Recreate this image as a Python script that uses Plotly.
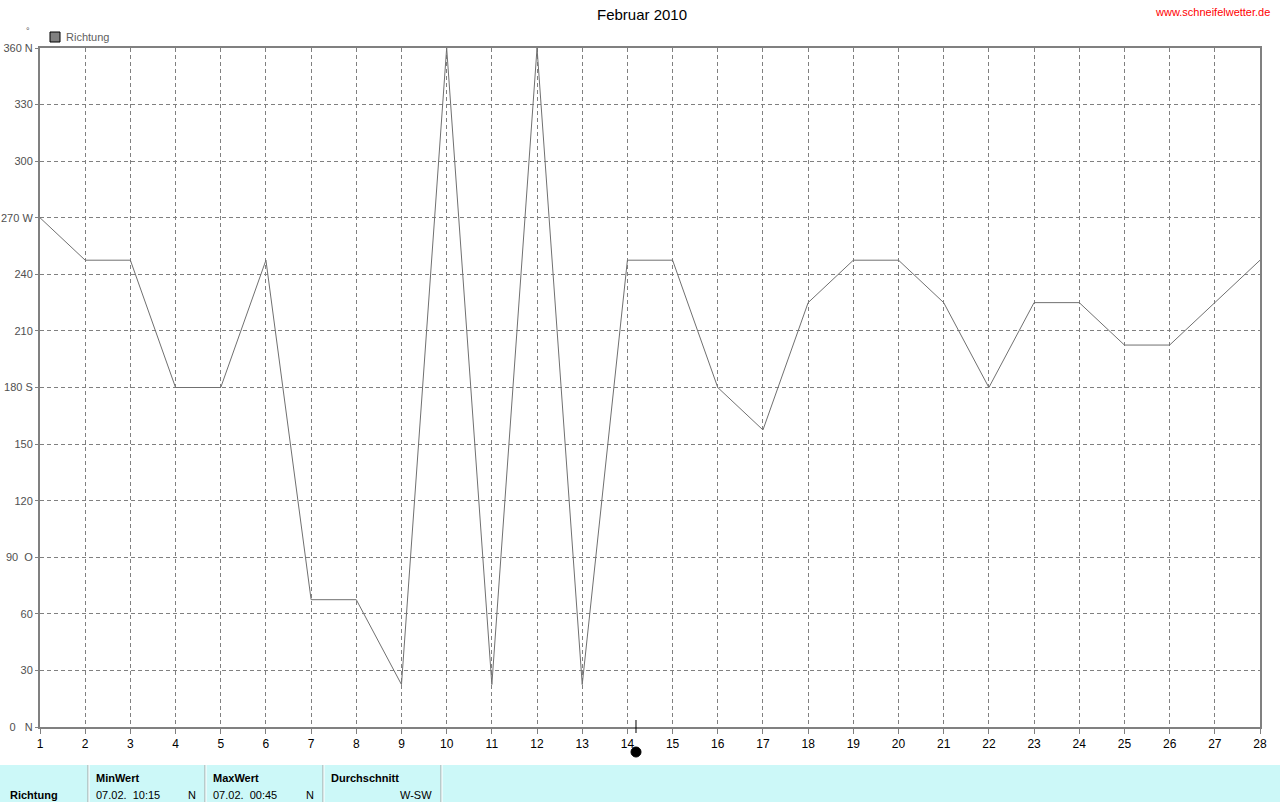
import plotly.graph_objects as go

days = list(range(1, 29))
richtung = [270, 247.5, 247.5, 180, 180, 247.5, 67.5, 67.5, 22.5, 360, 22.5, 360, 22.5,
            247.5, 247.5, 180, 157.5, 225, 247.5, 247.5, 225, 180, 225, 225, 202.5, 202.5, 225, 247.5]
y_ticks = [0, 30, 60, 90, 120, 150, 180, 210, 240, 270, 300, 330, 360]
y_labels = ["0\u00a0\u00a0\u00a0N", "30", "60", "90\u00a0\u00a0O", "120", "150", "180 S", "210", "240",
            "270 W", "300", "330", "360 N"]
today_x = 14.19

L, R, T, B = 40, 1260, 48, 727
W, H = R - L, B - T


def px(x):
    return (x - L) / W


def py(y):
    return (B - y) / H


fig = go.Figure()
fig.add_trace(go.Scatter(x=days, y=richtung, mode="lines", line=dict(color="#707070", width=1),
                         name="Richtung", showlegend=False))

font = "Liberation Sans, Arial, sans-serif"
fig.update_layout(
    width=1280, height=802,
    margin=dict(l=L, r=1280 - R, t=T, b=802 - B, pad=0, autoexpand=False),
    paper_bgcolor="white", plot_bgcolor="white",
    font=dict(family=font, size=11, color="black"),
    xaxis=dict(range=[1, 28], tickvals=days, ticktext=[str(d) for d in days],
               showgrid=True, gridcolor="#808080", griddash="4px,3px", gridwidth=1,
               showline=True, linecolor="#808080", linewidth=2, mirror=True, automargin=False,
               ticks="outside", ticklen=5, tickcolor="#808080", zeroline=False,
               tickfont=dict(size=12, color="black")),
    yaxis=dict(range=[0, 360], tickvals=y_ticks, ticktext=y_labels,
               showgrid=True, gridcolor="#808080", griddash="4px,3px", gridwidth=1,
               showline=True, linecolor="#808080", linewidth=2, mirror=True, automargin=False,
               ticks="outside", ticklen=3, tickcolor="#808080", zeroline=False,
               tickfont=dict(size=11, color="#505050")),
    showlegend=False,
)

shapes = []
annotations = []
# title and link
annotations.append(dict(text="Februar 2010", x=px(642), y=py(15), xref="paper", yref="paper",
                        showarrow=False, font=dict(size=15, color="black"), xanchor="center", yanchor="middle"))
annotations.append(dict(text="www.schneifelwetter.de", x=px(1272), y=py(12), xref="paper", yref="paper",
                        showarrow=False, font=dict(size=11, color="red"), xanchor="right", yanchor="middle"))
annotations.append(dict(text="°", x=px(28), y=py(31), xref="paper", yref="paper",
                        showarrow=False, font=dict(size=9, color="#505050"), xanchor="center", yanchor="middle"))
# legend
shapes.append(dict(type="rect", xref="paper", yref="paper", x0=px(50), x1=px(60), y0=py(42), y1=py(32),
                   fillcolor="#808080", line=dict(color="black", width=1)))
annotations.append(dict(text="Richtung", x=px(64), y=py(37), xref="paper", yref="paper",
                        showarrow=False, font=dict(size=11, color="#606060"), xanchor="left", yanchor="middle"))
# today marker
shapes.append(dict(type="line", xref="x", yref="paper", x0=today_x, x1=today_x, y0=py(720), y1=py(733),
                   line=dict(color="black", width=1)))
shapes.append(dict(type="circle", xref="paper", yref="paper", x0=px(631), x1=px(641), y0=py(757), y1=py(747),
                   fillcolor="black", line=dict(color="black", width=1)))
# bottom table
shapes.append(dict(type="rect", xref="paper", yref="paper", x0=px(0), x1=px(1280), y0=py(802), y1=py(765),
                   fillcolor="#ccf8f8", line=dict(width=0), layer="below"))
for sx in [88, 205, 323, 441]:
    shapes.append(dict(type="line", xref="paper", yref="paper", x0=px(sx), x1=px(sx), y0=py(802), y1=py(765),
                       line=dict(color="#a0a0a0", width=1)))
    shapes.append(dict(type="line", xref="paper", yref="paper", x0=px(sx + 1), x1=px(sx + 1), y0=py(802), y1=py(765),
                       line=dict(color="white", width=1)))


def txt(t, x, y, anchor="left", bold=False):
    annotations.append(dict(text=("<b>%s</b>" % t) if bold else t, x=px(x), y=py(y), xref="paper", yref="paper",
                            showarrow=False, font=dict(size=11, color="black"), xanchor=anchor, yanchor="middle"))


txt("Richtung", 8, 795, bold=True)
txt("MinWert", 94, 778, bold=True)
txt("07.02.\u00a0\u00a010:15", 94, 795)
txt("N", 198, 795, anchor="right")
txt("MaxWert", 211, 778, bold=True)
txt("07.02.\u00a0\u00a000:45", 211, 795)
txt("N", 316, 795, anchor="right")
txt("Durchschnitt", 329, 778, bold=True)
txt("W-SW", 434, 795, anchor="right")

fig.update_layout(shapes=shapes, annotations=annotations)
fig.write_html("out.html", config={"displayModeBar": False},
               post_script="document.body.style.margin='0';document.body.style.overflow='hidden';")
